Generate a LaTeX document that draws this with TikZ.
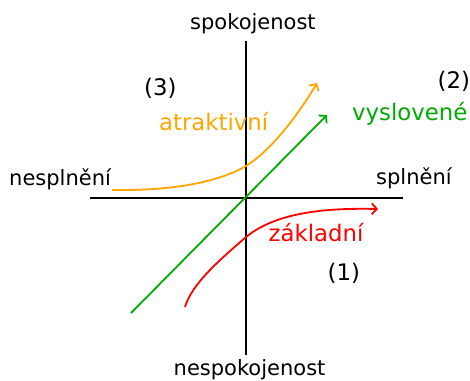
\documentclass[tikz,border=0pt]{standalone}
\usepackage{fontspec}
\setmainfont{DejaVu Sans}
\usetikzlibrary{arrows.meta}
\definecolor{attrorange}{RGB}{255,165,0}
\definecolor{spokgreen}{RGB}{0,170,0}
\definecolor{basicred}{RGB}{255,0,0}
\tikzset{
  axislabel/.style={anchor=base west,inner sep=0pt,font=\fontsize{21}{24}\selectfont},
  kanolabel/.style={anchor=base west,inner sep=0pt,font=\fontsize{22.8}{26}\selectfont},
  kanocurve/.style={line width=1.8pt,-{Straight Barb[length=5pt,width=11pt,line width=1.8pt]}}
}
\begin{document}
\begin{tikzpicture}[x=1pt,y=-1pt]
    \useasboundingbox (0,0) rectangle (470,380);
    % axes
    \coordinate (xmin) at (90,198);
    \coordinate (xmax) at (403,198);
    \coordinate (ymax) at (246,41);
    \coordinate (ymin) at (246,355);
    \draw[line width=2pt] (xmin) -- (xmax);
    \draw[line width=2pt] (ymax) -- (ymin);
    \node[axislabel] (spok) at (190,29.5) {spokojenost};
    \node[axislabel] (nespok) at (173.5,375) {nespokojenost};
    \node[axislabel] (nespl) at (9,185) {nesplnění};
    \node[axislabel] (spl) at (376,184) {splnění};
    % Kano curves
    \coordinate (attrstart) at (112,190);
    \coordinate (attrmid) at (246,166);
    \coordinate (attrend) at (317,83);
    \draw[kanocurve,attrorange] (attrstart) .. controls (180,191) and (222,180) .. (attrmid)
      .. controls (272,150) and (300,112) .. (attrend);
    \coordinate (spokstart) at (131,313);
    \coordinate (spokend) at (327,115);
    \draw[kanocurve,spokgreen] (spokstart) -- (spokend);
    \coordinate (basicstart) at (185,307);
    \coordinate (basicmid) at (246,237);
    \coordinate (basicend) at (378,209);
    \draw[kanocurve,basicred] (basicstart) .. controls (192,283) and (222,258) .. (basicmid)
      .. controls (278,211) and (330,208) .. (basicend);
    % labels
    \node[kanolabel,attrorange] (attr) at (159,130.5) {atraktivní};
    \node[kanolabel,spokgreen] (vysl) at (352,120.5) {vyslovené};
    \node[kanolabel,basicred] (zakl) at (268.5,241.5) {základní};
    \node[kanolabel] (three) at (144,95.5) {(3)};
    \node[kanolabel] (two) at (437.5,88) {(2)};
    \node[kanolabel] (one) at (327.5,280) {(1)};
\end{tikzpicture}
\end{document}
